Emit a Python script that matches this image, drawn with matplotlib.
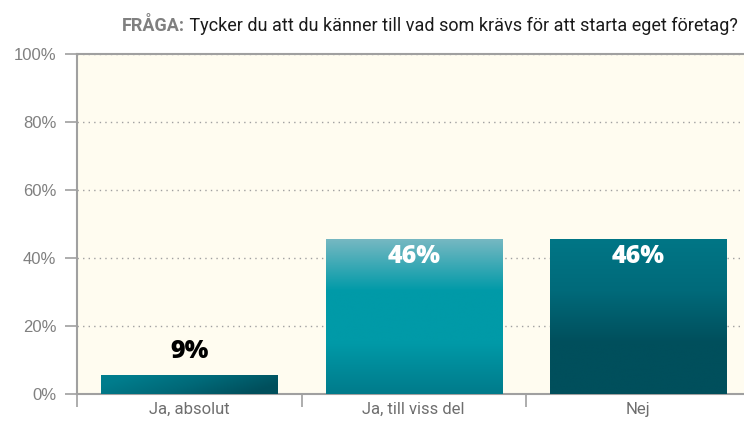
import numpy as np
import matplotlib.pyplot as plt
from matplotlib.colors import LinearSegmentedColormap

categories = ['Ja, absolut', 'Ja, till viss del', 'Nej']
bar_heights = [5.5, 45.5, 45.5]          # as drawn in the picture
value_labels = ['9%', '46%', '46%']      # as printed on the chart
yticks = [0, 20, 40, 60, 80, 100]

plt.rcParams['font.family'] = ['Roboto', 'DejaVu Sans']

fig = plt.figure(figsize=(7.44, 4.24), dpi=100)
ax = fig.add_axes([77/744, 1-393.7/424, 673.5/744, 339.7/424])
ax.set_facecolor('#fffcf0')

x = np.arange(len(categories))
bars = ax.bar(x, bar_heights, width=0.785, color='none', zorder=3)

# gradients for each bar (vertical unless noted)
grads = [
    ('h', ['#007d8d', '#006978', '#004f5c']),
    ('v', ['#007b8b', '#009aa8', '#009aa8', '#76b8c2']),
    ('v', ['#004f5c', '#004f5c', '#006a7a', '#007686']),
]
for b, (d, cols) in zip(bars, grads):
    cmap = LinearSegmentedColormap.from_list('g', cols)
    if d == 'h':
        g = np.linspace(0, 1, 256).reshape(1, -1)
        g = np.clip(g + np.linspace(0.15, -0.15, 8).reshape(-1, 1), 0, 1)
    else:
        g = np.linspace(0, 1, 256).reshape(-1, 1)
    x0, y0 = b.get_x(), b.get_y()
    im = ax.imshow(g, cmap=cmap, aspect='auto', origin='lower',
                   extent=[x0, x0 + b.get_width(), y0, y0 + b.get_height()],
                   zorder=3, interpolation='bicubic')
    im.set_clip_path(b)

# value labels
lab_font = ['Open Sans', 'DejaVu Sans']
ax.text(x[0], bar_heights[0] + 3.3, value_labels[0], ha='center', va='bottom',
        fontsize=18, fontweight='heavy', color='black', family=lab_font, zorder=4)
for i in (1, 2):
    ax.text(x[i], bar_heights[i] - 1.3, value_labels[i], ha='center', va='top',
            fontsize=18, fontweight='heavy', color='white', family=lab_font, zorder=4)

ax.set_xlim(-0.5, 2.5)
ax.set_ylim(0, 100)
ax.set_yticks(yticks)
ax.set_yticklabels([f'{v}%' for v in yticks], color='#808080', fontsize=12,
                   family=['Liberation Sans', 'DejaVu Sans'])
ax.yaxis.grid(True, linestyle=(0, (1, 3)), color='#a0a0a0', linewidth=1, zorder=1)
ax.set_axisbelow(True)

ax.set_xticks(x)
ax.set_xticklabels(categories, color='#6e6e6e', fontsize=12)
ax.tick_params(axis='x', length=0, pad=6)
ax.set_xticks([-0.5, 0.5, 1.5, 2.5], minor=True)
ax.tick_params(axis='x', which='minor', length=9, color='#a0a0a0', width=1.2)
ax.tick_params(axis='y', length=9, color='#a0a0a0', width=1.2, pad=6)

for s in ['left', 'top', 'bottom']:
    ax.spines[s].set_color('#a0a0a0')
    ax.spines[s].set_linewidth(1.5)
ax.spines['right'].set_visible(False)

t1 = fig.text(122/744, 1-31/424, 'FRÅGA:', fontsize=13, fontweight='bold',
              color='#808080', va='baseline')
ax.annotate(' Tycker du att du känner till vad som krävs för att starta eget företag?',
            xy=(1, 0), xycoords=t1, va='bottom', fontsize=13, color='#1a1a1a')

fig.savefig('out.png', dpi=100)
